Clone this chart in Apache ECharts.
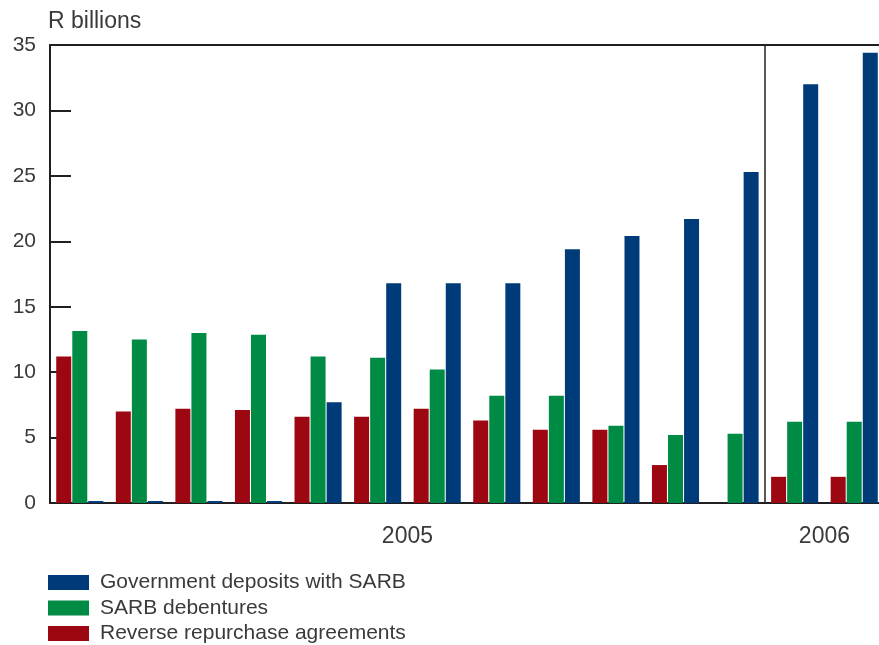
<!DOCTYPE html>
<html>
<head>
<meta charset="utf-8">
<script src="https://cdn.jsdelivr.net/npm/echarts@6/dist/echarts.min.js"></script>
<style>
  html, body { margin: 0; padding: 0; background: #fff; }
  #chart { width: 879px; height: 645px; }
</style>
</head>
<body>
<div id="chart"></div>
<script>
// Monthly balances, Jan 2005 – Feb 2006 (R billions)
const months = ['Jan 2005', 'Feb 2005', 'Mar 2005', 'Apr 2005', 'May 2005', 'Jun 2005',
                'Jul 2005', 'Aug 2005', 'Sep 2005', 'Oct 2005', 'Nov 2005', 'Dec 2005',
                'Jan 2006', 'Feb 2006'];
const reverseRepos = [11.2, 7.0, 7.2, 7.1, 6.6, 6.6, 7.2, 6.3, 5.6, 5.6, 2.9, 0, 2.0, 2.0];
const sarbDebentures = [13.15, 12.5, 13.0, 12.85, 11.2, 11.1, 10.2, 8.2, 8.2, 5.9, 5.2, 5.3, 6.2, 6.2];
const govDeposits = [0.15, 0.15, 0.15, 0.15, 7.7, 16.8, 16.8, 16.8, 19.4, 20.4, 21.7, 25.3, 32.0, 34.4];
const yearLabels = { 6: '2005', 13: '2006' };   // centred under each year's months
const yearBreak = 12;                            // boundary between Dec 2005 and Jan 2006

const ink = '#231f20';
const textColor = '#3a3a3a';
const font = 'Liberation Sans, Arial, sans-serif';

const chart = echarts.init(document.getElementById('chart'));
chart.setOption({
  animation: false,
  textStyle: { fontFamily: font },
  grid: { left: 50, width: 834, top: 45, bottom: 142, containLabel: false, outerBoundsMode: 'none' },
  legend: {
    data: ['Government deposits with SARB', 'SARB debentures', 'Reverse repurchase agreements'],
    orient: 'vertical',
    left: 48, top: 572, height: 90, padding: 0,
    itemWidth: 41, itemHeight: 15, itemGap: 4.5,
    icon: 'rect',
    textStyle: { fontSize: 21, lineHeight: 15, color: textColor, fontFamily: font, padding: [0, 0, 0, 6] }
  },
  xAxis: [
    {
      type: 'category', data: months,
      axisLine: { lineStyle: { color: ink, width: 2 } },
      axisTick: { show: false }, axisLabel: { show: false }
    },
    {
      type: 'value', min: 0, max: months.length, interval: 1, position: 'bottom',
      axisLine: { show: false }, axisTick: { show: false }, splitLine: { show: false },
      axisLabel: {
        margin: 22, fontSize: 23, color: textColor, fontFamily: font,
        showMinLabel: true, showMaxLabel: true,
        formatter: v => yearLabels[v] || ''
      }
    },
    {
      type: 'value', min: 0, max: months.length, position: 'top',
      axisLine: { show: true, lineStyle: { color: ink, width: 2 } },
      axisTick: { show: false }, axisLabel: { show: false }, splitLine: { show: false }
    }
  ],
  yAxis: {
    type: 'value', min: 0, max: 35, interval: 5,
    name: 'R billions', nameLocation: 'end', nameGap: 12,
    nameTextStyle: { align: 'left', fontSize: 23, color: textColor, fontFamily: font, padding: [0, 0, 0, -2] },
    axisLine: { show: true, lineStyle: { color: ink, width: 2 } },
    axisTick: { show: true, inside: true, length: 21, lineStyle: { color: ink, width: 2 } },
    axisLabel: { fontSize: 21, color: textColor, margin: 14, fontFamily: font },
    splitLine: { show: false }
  },
  series: [
    {
      name: 'Reverse repurchase agreements', type: 'bar', data: reverseRepos,
      barWidth: 15, barGap: '7%', itemStyle: { color: '#9d0711' }
    },
    {
      name: 'SARB debentures', type: 'bar', data: sarbDebentures,
      barWidth: 15, barGap: '7%', itemStyle: { color: '#008b45' }
    },
    {
      name: 'Government deposits with SARB', type: 'bar', data: govDeposits,
      barWidth: 15, barGap: '7%', itemStyle: { color: '#003b79' }
    },
    {
      // year separator
      type: 'line', xAxisIndex: 1, data: [], silent: true,
      markLine: {
        symbol: 'none', silent: true, label: { show: false },
        lineStyle: { color: ink, width: 1.5, type: 'solid' },
        data: [{ xAxis: yearBreak }]
      }
    }
  ]
});
</script>
</body>
</html>
